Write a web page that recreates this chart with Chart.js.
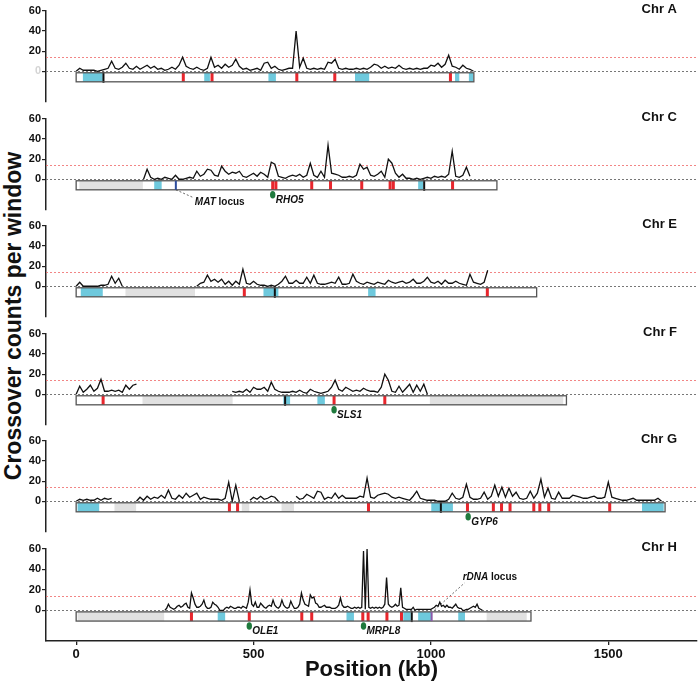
<!DOCTYPE html>
<html>
<head>
<meta charset="utf-8">
<script src="https://cdn.jsdelivr.net/npm/chart.js@4.4.1/dist/chart.umd.min.js"></script>
<style>
  html, body { margin: 0; padding: 0; background: #fff; }
  #wrap { position: relative; width: 700px; height: 684px; overflow: hidden; font-family: 'Liberation Sans', Arial, sans-serif; }
  #wrap canvas { position: absolute; left: 0; }
  #ytitle { position: absolute; left: 13px; top: 316px; transform: translate(-50%, -50%) rotate(-90deg);
            font-weight: bold; font-size: 23px; white-space: nowrap; color: #111; }
</style>
</head>
<body>
<div id="wrap">
  <div id="ytitle">Crossover counts per window</div>
</div>
<script>
// panels, lengths (kb) and crossover counts per window
const chromosomes = ['Chr A', 'Chr C', 'Chr E', 'Chr F', 'Chr G', 'Chr H'];
const chrLength = [1121, 1186, 1298, 1382, 1660, 1282];
const firstWindow = [0, 190, 0, 0, 0, 250];
const windowStep = [10, 10, 10, 10, 10, 5];
const xTicks = [0, 500, 1000, 1500];
const yTicks = [0, 20, 40, 60];
const threshold = 14;

const countsA = [
  0,3,1,1,1,1,0,1,2,3, 10,3,2,4,8,3,2,5,2,4, 6,3,5,2,3,1,2,4,2,6,
  14,5,3,2,4,2,1,3,14,4, 6,3,7,4,6,12,5,2,3,1, 2,3,1,8,9,3,5,2,1,2,
  3,3,40,4,13,3,2,3,2,3, 2,9,8,12,3,2,3,2,2,3, 2,3,2,4,7,6,3,5,3,4,
  3,6,3,2,3,2,3,2,3,3, 6,5,8,4,7,16,5,4,2,6, 3,2,0
];
const countsC = [
  0,10,2,0,1,0,2,1,0,4, 0,0,1,2,1,8,3,5,10,9, 4,3,13,8,5,7,6,8,3,2,
  4,6,3,7,5,2,17,15,3,2, 1,3,4,3,5,2,4,16,4,2, 8,2,34,6,5,4,2,2,3,2,
  4,15,10,12,4,3,5,8,2,20, 16,6,2,5,1,1,0,1,0,1, 2,1,3,2,3,2,5,28,3,2,
  4,12,3
];
const countsE = [
  0,4,0,0,0,0,0,1,1,2, 10,3,8,0,
  null,null,null,null,null,null,null,null,null,null,
  null,null,null,null,null,null,null,null,null,null,
  0,3,4,11,5,7,4,7,2,5, 1,5,2,17,3,2,5,2,1,1, 0,1,0,2,5,10,3,3,6,3,
  3,9,3,11,3,2,2,3,4,3, 9,2,2,3,12,5,3,2,4,3, 2,4,3,2,6,4,3,4,5,3,
  4,7,3,3,5,9,4,3,5,2, 6,3,3,5,3,2,1,12,4,3, 2,4,16
];
const countsF = [
  0,8,2,5,9,3,6,15,3,3, 4,3,4,2,9,5,9,10,
  null,null,null,null,null,null,null,null,null,null,null,null,null,
  null,null,null,null,null,null,null,null,null,null,null,null,null,
  3,2,3,2,5,2,7,5,5,7, 3,12,5,3,2,2,2,3,2,4, 2,1,5,3,2,1,2,3,7,14,
  5,3,7,5,3,4,3,6,4,3, 3,2,7,20,14,3,2,8,2,6, 10,2,9,3,10,0
];
const countsG = [
  0,2,1,2,1,1,3,1,3,2, 3,
  null,null,null,null,null,null,
  0,4,1,5,2,4,3,6,3,11, 3,2,6,3,8,4,6,8,2,4, 3,2,2,2,1,3,19,0,16,0,
  null,null,
  1,4,2,5,2,3,5,4,0,
  null,null,null,null,
  5,2,3,7,5,3,10,9,2,4, 3,8,3,6,3,3,3,3,5,4, 23,4,3,6,7,8,7,4,3,4,
  3,2,1,5,10,3,2,1,1,1, 0,0,0,2,8,3,2,4,17,4, 2,2,3,9,2,5,16,5,14,4,
  13,5,9,3,2,3,10,3,8,22, 4,13,3,2,9,3,3,3,6,5, 4,3,3,4,5,3,3,4,19,4,
  3,2,1,1,2,3,1,1,1,1, 1,1,3,0
];
const countsH = [
  0,2,6,3,2,1,2,4,5,3, 4,6,7,3,2,17,12,6,3,3, 4,6,10,4,2,2,3,8,6,5,
  3,0,0,0,2,3,2,4,3,2, 2,3,3,2,4,3,2,8,20,6, 4,8,3,3,7,5,3,2,4,5,
  4,10,5,3,2,4,10,5,3,2, 3,9,5,2,2,3,6,17,10,6, 5,4,15,12,13,7,6,3,3,4,
  5,3,3,3,2,2,2,3,5,12, 5,3,3,4,3,2,2,3,2,3, 2,3,58,1,60,3,2,3,2,3,
  2,3,2,3,6,32,6,4,3,4, 6,4,5,22,3,2,1,1,1,1, 3,0,1,1,1,1,1,1,1,1,
  1,2,3,5,4,8,4,5,3,5, 3,3,2,4,6,3,2,2,0,0, 1,1,2,3,4,3,6,2,1,0
];
const counts = [countsA, countsC, countsE, countsF, countsG, countsH];

// chromosome features (kb)
const greySegments = [
  [],
  [[9, 188]],
  [[139, 335]],
  [[187, 441], [997, 1373]],
  [[108, 169], [467, 488], [579, 614]],
  [[4, 248], [1157, 1270]]
];
const cyanSegments = [
  [[19, 75], [361, 377], [542, 563], [786, 826], [1068, 1080], [1107, 1119]],
  [[220, 241], [964, 978]],
  [[13, 75], [528, 570], [823, 844]],
  [[584, 603], [680, 701]],
  [[4, 65], [1001, 1062], [1595, 1656]],
  [[399, 420], [762, 783], [922, 943], [964, 1002], [1077, 1096]]
];
const redMarks = [
  [302, 383, 622, 729, 1055],
  [554, 563, 664, 717, 805, 885, 894, 1061],
  [474, 1159],
  [76, 727, 870],
  [432, 455, 824, 1103, 1176, 1199, 1223, 1290, 1307, 1332, 1504],
  [325, 488, 636, 664, 808, 823, 876, 917]
];
const blackMarks = [[77], [981], [560], [589], [1028], [946]];
const geneNames = ['RHO5', 'SLS1', 'GYP6', 'OLE1', 'MRPL8'];
const genePanel = [1, 3, 4, 5, 5];
const geneKb = [554, 727, 1105, 488, 810];
const locusNames = ['MAT', 'rDNA'];
const locusPanel = [1, 5];
const locusKb = [281, 1002];

const family = "'Liberation Sans', Arial, Helvetica, sans-serif";
const wrap = document.getElementById('wrap');
const xMin = -85, xMax = 1750;
const barTop = -1.5, barBottom = -10.5;

const chromPlugin = k => ({
    id: 'chrom' + k,
    beforeDatasetsDraw(chart) {
        const {ctx, chartArea: a, scales: {y}} = chart;
        ctx.save();
        ctx.lineWidth = 1;
        ctx.setLineDash([2, 2]);
        const yr = Math.round(y.getPixelForValue(threshold)) + 0.5;
        ctx.strokeStyle = 'rgba(240,112,112,0.85)';
        ctx.beginPath(); ctx.moveTo(a.left, yr); ctx.lineTo(a.right, yr); ctx.stroke();
        const y0 = Math.round(y.getPixelForValue(0)) + 0.5;
        ctx.strokeStyle = '#777';
        ctx.beginPath(); ctx.moveTo(a.left, y0); ctx.lineTo(a.right, y0); ctx.stroke();
        ctx.restore();
    },
    afterDatasetsDraw(chart) {
        const {ctx, chartArea: a, scales: {x, y}} = chart;
        const px = v => x.getPixelForValue(v);
        const yt = y.getPixelForValue(barTop), yb = y.getPixelForValue(barBottom);
        const x0 = px(0), x1 = px(chrLength[k]);
        ctx.save();
        // chromosome bar
        ctx.fillStyle = '#fff';
        ctx.fillRect(x0, yt, x1 - x0, yb - yt);
        ctx.fillStyle = '#e1e1e1';
        greySegments[k].forEach(([s, e]) => ctx.fillRect(px(s), yt, px(e) - px(s), yb - yt));
        ctx.fillStyle = '#6ec9dd';
        cyanSegments[k].forEach(([s, e]) => ctx.fillRect(px(s), yt, px(e) - px(s), yb - yt));
        ctx.fillStyle = '#e8262d';
        redMarks[k].forEach(p => ctx.fillRect(px(p) - 1.5, yt, 3, yb - yt));
        ctx.fillStyle = '#111';
        blackMarks[k].forEach(p => ctx.fillRect(px(p) - 1, yt - 1, 2, yb - yt + 2));
        ctx.strokeStyle = '#555';
        ctx.lineWidth = 1.3;
        ctx.strokeRect(x0, yt, x1 - x0, yb - yt);

        // loci with leader lines
        locusNames.forEach((name, i) => {
            if (locusPanel[i] !== k) return;
            const lx = px(locusKb[i]);
            ctx.fillStyle = name === 'MAT' ? '#2d4d9e' : '#8d5aa8';
            ctx.fillRect(lx - 1, yt, 2, yb - yt);
            ctx.strokeStyle = '#444';
            ctx.lineWidth = 0.8;
            ctx.setLineDash([2, 2]);
            ctx.beginPath();
            let tx, ty;
            if (name === 'MAT') {
                ctx.moveTo(lx, yb); ctx.lineTo(lx + 18, yb + 8);
                tx = lx + 19; ty = yb + 12;
            } else {
                ctx.moveTo(lx + 3, yt - 2); ctx.lineTo(lx + 33, yt - 29);
                tx = lx + 31; ty = yt - 35;
            }
            ctx.stroke();
            ctx.setLineDash([]);
            ctx.fillStyle = '#111';
            ctx.textAlign = 'left';
            ctx.textBaseline = 'middle';
            ctx.font = `italic bold 10px ${family}`;
            ctx.fillText(name, tx, ty);
            const w = ctx.measureText(name).width;
            ctx.font = `bold 10px ${family}`;
            ctx.fillText(' locus', tx + w, ty);
        });

        // genes
        geneNames.forEach((g, i) => {
            if (genePanel[i] !== k) return;
            const gx = px(geneKb[i]);
            ctx.fillStyle = '#1f7a3d';
            ctx.beginPath();
            ctx.ellipse(gx, yb + 5, 2.7, 3.8, 0, 0, Math.PI * 2);
            ctx.fill();
            ctx.fillStyle = '#111';
            ctx.font = `italic bold 10px ${family}`;
            ctx.textAlign = 'left';
            ctx.textBaseline = 'middle';
            ctx.fillText(g, gx + 3, yb + 10);
        });

        // panel label
        ctx.font = `bold 13px ${family}`;
        ctx.fillStyle = '#111';
        ctx.textAlign = 'right';
        ctx.textBaseline = 'middle';
        ctx.fillText(chromosomes[k], a.right - 20, a.top - 2);
        ctx.restore();
    }
});

function makePanel(k) {
    const isLast = k === chromosomes.length - 1;
    const top = Math.round(1 + 107.6 * k);
    const height = isLast ? 684 - top : 108;
    const canvas = document.createElement('canvas');
    canvas.width = 700;
    canvas.height = height;
    canvas.style.top = top + 'px';
    canvas.style.width = '700px';
    canvas.style.height = height + 'px';
    wrap.appendChild(canvas);

    const pts = counts[k].map((v, i) => ({x: firstWindow[k] + i * windowStep[k], y: v}));

    new Chart(canvas.getContext('2d'), {
        type: 'line',
        data: {
            datasets: [{
                data: pts,
                borderColor: '#111',
                borderWidth: 1.3,
                pointRadius: 0,
                tension: 0,
                spanGaps: false,
                fill: false
            }]
        },
        options: {
            responsive: false,
            animation: false,
            events: [],
            layout: { padding: { top: 10, right: 3, bottom: isLast ? 0 : 5, left: 0 } },
            plugins: {
                legend: { display: false },
                tooltip: { enabled: false }
            },
            scales: {
                x: {
                    type: 'linear',
                    min: xMin,
                    max: xMax,
                    display: isLast,
                    afterBuildTicks: s => { s.ticks = xTicks.map(v => ({value: v})); },
                    afterFit: s => { s.height = isLast ? 43 : 0; },
                    grid: { drawOnChartArea: false, drawTicks: true, tickLength: 4, color: '#222', lineWidth: 1.3 },
                    border: { display: true, color: '#222', width: 1.5 },
                    ticks: {
                        color: '#111', padding: 2, maxRotation: 0,
                        font: { size: 13, weight: 'bold', family: family },
                        callback: v => String(v)
                    },
                    title: {
                        display: true,
                        text: 'Position (kb)',
                        color: '#111',
                        font: { size: 22, weight: 'bold', family: family },
                        padding: { top: 0, bottom: 1 }
                    }
                },
                y: {
                    type: 'linear',
                    min: -30,
                    max: 60,
                    afterBuildTicks: s => { s.ticks = yTicks.map(v => ({value: v})); },
                    afterFit: s => { s.width = 46; },
                    grid: { drawOnChartArea: false, drawTicks: true, tickLength: 4, color: '#222', lineWidth: 1.2 },
                    border: { display: true, color: '#222', width: 1.5 },
                    ticks: {
                        padding: 1,
                        font: { size: 11, weight: 'bold', family: family },
                        color: c => (k === 0 && c.tick && c.tick.value === 0) ? '#d4d4d4' : '#111'
                    }
                }
            }
        },
        plugins: [chromPlugin(k)]
    });
}

chromosomes.forEach((c, k) => makePanel(k));
</script>
</body>
</html>
